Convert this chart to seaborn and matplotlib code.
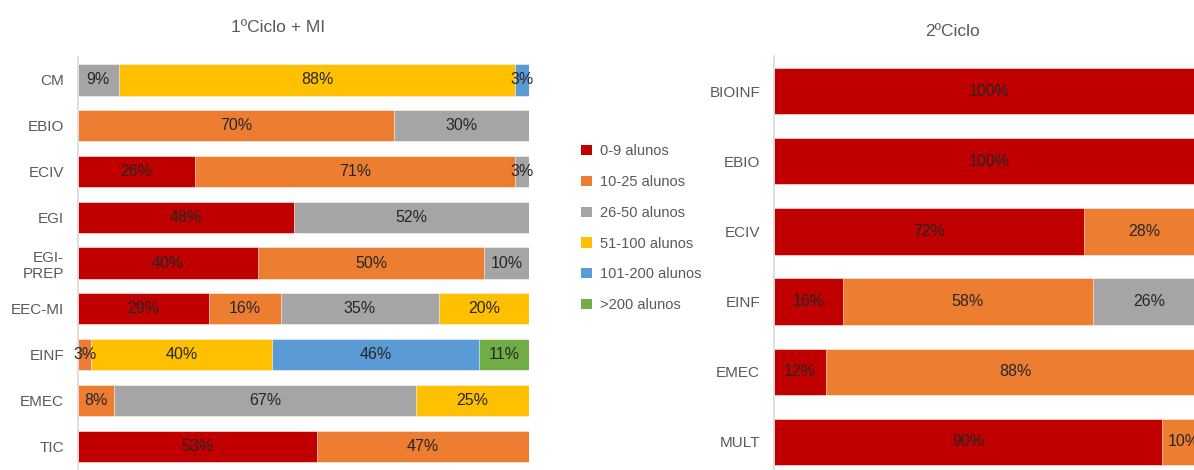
import numpy as np
import pandas as pd
import matplotlib
matplotlib.use('Agg')
import matplotlib.pyplot as plt
import seaborn as sns
from matplotlib.patches import Patch
from matplotlib.ticker import FixedLocator

# Dados
faixas = ['0-9 alunos', '10-25 alunos', '26-50 alunos', '51-100 alunos', '101-200 alunos', '>200 alunos']
cores = ['#C00000', '#ED7D31', '#A5A5A5', '#FFC000', '#5B9BD5', '#70AD47']

# 1º Ciclo + MI
cursos_1 = ['CM', 'EBIO', 'ECIV', 'EGI', 'EGI-\nPREP', 'EEC-MI', 'EINF', 'EMEC', 'TIC']
c1_0_9 = [0, 0, 26, 48, 40, 29, 0, 0, 53]
c1_10_25 = [0, 70, 71, 0, 50, 16, 3, 8, 47]
c1_26_50 = [9, 30, 3, 52, 10, 35, 0, 67, 0]
c1_51_100 = [88, 0, 0, 0, 0, 20, 40, 25, 0]
c1_101_200 = [3, 0, 0, 0, 0, 0, 46, 0, 0]
c1_200 = [0, 0, 0, 0, 0, 0, 11, 0, 0]

# 2º Ciclo
cursos_2 = ['BIOINF', 'EBIO', 'ECIV', 'EINF', 'EMEC', 'MULT']
c2_0_9 = [100, 100, 72, 16, 12, 90]
c2_10_25 = [0, 0, 28, 58, 88, 10]
c2_26_50 = [0, 0, 0, 26, 0, 0]
c2_51_100 = [0, 0, 0, 0, 0, 0]
c2_101_200 = [0, 0, 0, 0, 0, 0]
c2_200 = [0, 0, 0, 0, 0, 0]

sns.set_style('white')
plt.rcParams['font.family'] = ['Liberation Sans Narrow', 'Liberation Sans', 'DejaVu Sans']

cinza_txt = '#595959'
cinza_eixo = '#D9D9D9'


def grafico(ax, cursos, series, largura):
    df = pd.DataFrame(np.array(series).T, index=cursos, columns=faixas)
    acum = df.cumsum(axis=1)
    # barras empilhadas: desenhar da ultima faixa para a primeira
    for faixa, cor in zip(faixas[::-1], cores[::-1]):
        d = pd.DataFrame({'curso': cursos, 'valor': acum[faixa].values})
        sns.barplot(data=d, y='curso', x='valor', order=cursos, color=cor,
                    width=largura, ax=ax, saturation=1, edgecolor='white', linewidth=0.4)
    # rotulos de dados
    for i, curso in enumerate(cursos):
        for faixa in faixas:
            v = df.loc[curso, faixa]
            if v > 0:
                ax.text(acum.loc[curso, faixa] - v / 2, i, f'{v}%', ha='center', va='center',
                        fontsize=11.5, color='#262626')
    n = len(cursos)
    ax.set_xlim(0, 100)
    ax.set_ylim(n - 0.5, -0.5)
    ax.set_xlabel('')
    ax.set_ylabel('')
    ax.set_xticks([])
    for s in ['top', 'right', 'bottom']:
        ax.spines[s].set_visible(False)
    ax.spines['left'].set_color(cinza_eixo)
    ax.spines['left'].set_linewidth(1.2)
    ax.tick_params(axis='y', which='major', length=0, pad=10, labelsize=11, labelcolor=cinza_txt)
    ax.yaxis.set_minor_locator(FixedLocator(np.arange(-0.5, n, 1.0)))
    ax.tick_params(axis='y', which='minor', length=5, color=cinza_eixo, width=1.2)


fig = plt.figure(figsize=(11.94, 4.70), dpi=100)

ax1 = fig.add_axes([0.0653, 0.002, 0.3777, 0.8766])
grafico(ax1, cursos_1, [c1_0_9, c1_10_25, c1_26_50, c1_51_100, c1_101_200, c1_200], 0.68)

ax2 = fig.add_axes([0.6482, -0.015, 0.361, 0.8957])
grafico(ax2, cursos_2, [c2_0_9, c2_10_25, c2_26_50, c2_51_100, c2_101_200, c2_200], 0.66)

fig.text(278 / 1194, 1 - 28 / 470, '1ºCiclo + MI', ha='center', va='center', fontsize=12.5, color=cinza_txt)
fig.text(953 / 1194, 1 - 32 / 470, '2ºCiclo', ha='center', va='center', fontsize=12.5, color=cinza_txt)

handles = [Patch(facecolor=c, edgecolor='none') for c in cores]
fig.legend(handles, faixas, loc='upper left', bbox_to_anchor=(574 / 1194, 1 - 137 / 470),
           frameon=False, fontsize=10.5, labelcolor=cinza_txt, handlelength=0.7, handleheight=0.7,
           handletextpad=0.6, labelspacing=1.15, borderpad=0)

fig.savefig('out.png', dpi=100)
